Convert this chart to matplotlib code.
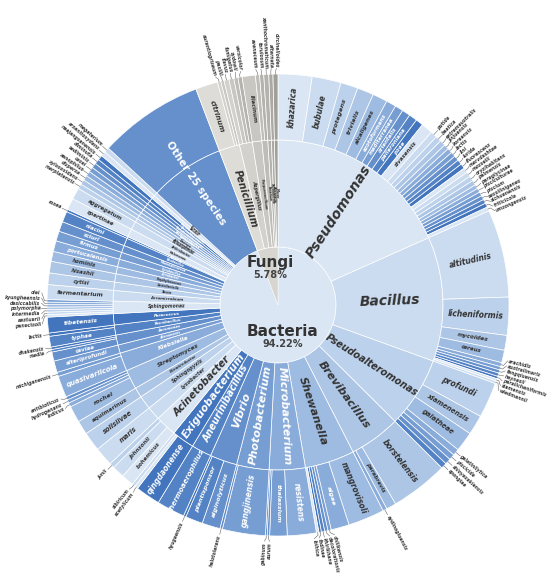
import matplotlib.pyplot as plt
import numpy as np

# ---------------------------------------------------------------
# data: isolates per kingdom -> genus -> species
# ---------------------------------------------------------------
kingdoms = ["Bacteria", "Fungi"]

genera = [
    "Pseudomonas", "Bacillus", "Pseudoalteromonas", "Brevibacillus", "Shewanella",
    "Microbacterium", "Photobacterium", "Vibrio", "Aneurinibacillus", "Exiguobacterium",
    "Acinetobacter", "Lysobacter", "Sphingopyxis", "Nitratireductor", "Streptomyces",
    "Klebsiella", "Alteromonas", "Aeromonas", "Paenibacillus", "Paracoccus",
    "Sphingomonas", "Aeromicrobium", "Bosea", "Castellaniella", "Staphylococcus",
    "Citrobacter", "Cytobacillus", "Mammaliicoccus", "Neobacillus", "Kocuria",
    "Halomonas", "Arthrobacter", "Herbaspirillum", "Achromobacter", "Pantoea",
    "Variovorax", "Lacticaseibacillus", "Pseudoxanthomonas", "Brevundimonas",
    "Stenotrophomonas", "Ensifer", "Priestia", "Other 25 species",
    "Penicillium", "Aspergillus", "Purpureocillium", "Fusarium", "Trichoderma",
    "Alternaria", "Mucor",
]
genus_kingdom = ["Bacteria"] * 43 + ["Fungi"] * 7

species = [
    ["khazarica", "bubulae", "protegens", "trivialis", "alcaligenes", "azotoformans",
     "mediterranea", "orientalis", "palleroniana", "poae", "sivasensis", "putida",
     "baetica", "extremaustralis", "jinjuensis", "koreensis", "lactis", "lini", "lurida",
     "fluorescens", "marvdashtae", "mosselii", "oryzihabitans", "palmensis",
     "paraglycinae", "pisciculturae", "piscium", "sessilinigenes", "sichuanensis",
     "triticicola", "umsongensis"],
    ["altitudinis", "licheniformis", "mycoides", "cereus", "arachidis", "australimaris",
     "fengqiuensis", "haynesii", "paralicheniformis", "siamensis", "wiedmannii"],
    ["profundi", "xiamenensis", "galatheae", "gelatinilytica", "piscicida",
     "shioyasakiensis", "spongiae"],
    ["borstelensis", "parabrevis", "aydinogluensis"],
    ["mangrovisoli", "algae", "chilikensis", "decolorationis", "khirikhana", "fodinae",
     "loihica"],
    ["resistens", "thalassium", "aurum", "gabinum"],
    ["gangjinensis", "halotolerans"],
    ["alginolyticus", "plantisponsor", "hyugaensis"],
    ["thermoaerophilus"],
    ["qingdaonense", "acetylicum", "sibiricum"],
    ["bohemicus", "johnsonii", "junii"],
    ["maris"],
    ["solisilvae"],
    ["aquimarinus"],
    ["rochei", "indicus", "hydrogenans", "antibioticus"],
    ["quasivariicola", "michiganensis"],
    ["alteriprofundi"],
    ["caviae", "media", "dhakensis"],
    ["typhae", "lactis"],
    ["tibetensis"],
    ["panacisoli", "aestuarii", "intermedia", "polymorpha", "desiccabilis",
     "kyungheensis", "olei"],
    ["fermentarium"],
    ["cytisi"],
    ["hisashii"],
    ["hominis"],
    ["portucalensis"],
    ["firmus"],
    ["sciuri"],
    ["niacini"],
    ["rosea"],
    ["spartinae"],
    ["aggregatum"],
    ["marplatensis"],
    ["xylosoxidans"],
    ["dispersa"],
    ["xenophilus"],
    ["casei"],
    ["sediminis"],
    ["diminuta"],
    ["naejangsanensis"],
    ["arsenitoxydans"],
    ["megaterium"],
    [""],
    ["citrinum", "aurantiogriseum", "paxilli"],
    ["flavus", "fumigatus", "sydowii", "versicolor"],
    ["lilacinum"],
    ["avenaceum", "torulosum"],
    ["xanthochromaticum"],
    ["alternata"],
    ["circinelloides"],
]

counts = [
    [41, 35, 21, 20, 18, 12, 10, 10, 10, 9, 14, 8, 7, 7, 6, 6, 6, 6, 6, 6, 6, 6, 6, 6,
     5, 5, 5, 5, 5, 5, 5],
    [106, 46, 18, 15, 5, 4, 4, 4, 3, 3, 3],
    [43, 24, 24, 8, 7, 7, 7],
    [70, 12, 5],
    [44, 22, 4, 4, 4, 3, 3],
    [35, 21, 3, 2],
    [52, 3],
    [22, 21, 3],
    [34],
    [30, 4, 4],
    [15, 15, 6],
    [23],
    [23],
    [17],
    [20, 5, 4, 4],
    [26, 5],
    [14],
    [11, 3, 3],
    [13, 4],
    [19],
    [3, 3, 3, 3, 3, 3, 3],
    [18],
    [14],
    [14],
    [12],
    [13],
    [12],
    [12],
    [13],
    [3],
    [14],
    [14],
    [6], [6], [6], [6], [6], [6], [6], [6], [6], [6],
    [127],
    [27, 4, 4],
    [6, 6, 5, 5],
    [16],
    [5, 5],
    [6],
    [5],
    [6],
]

# ---------------------------------------------------------------
blues = ["#dae6f4", "#cbdcf0", "#bcd1eb", "#adc6e6", "#9ebbe1",
         "#8aacda", "#779ed3", "#6590cc", "#5383c5", "#4275bd"]
grays = ["#dddcd6", "#d2d1cb", "#c8c7c1", "#bebdb7", "#b4b3ad",
         "#aaa9a3", "#a09f9a", "#969590", "#8c8b87", "#82817d"]

R_IN, R_MID, R_OUT = 58, 165, 231
TXT = "#333333"

genus_n = [sum(c) for c in counts]
kingdom_n = [sum(n for n, k in zip(genus_n, genus_kingdom) if k == kg) for kg in kingdoms]
total = sum(kingdom_n)

# colour shades cycle through the palette genus by genus
genus_shade = []
step = {k: 0 for k in kingdoms}
for g, k in zip(genera, genus_kingdom):
    genus_shade.append(7 if g.startswith("Other") else step[k] % 10)
    step[k] += 1


def col(kingdom, shade):
    return (blues if kingdom == "Bacteria" else grays)[shade % 10]


genus_colors = [col(k, s) for k, s in zip(genus_kingdom, genus_shade)]
sp_names, sp_counts, sp_colors, sp_shade, sp_king = [], [], [], [], []
for k, s, names, cs in zip(genus_kingdom, genus_shade, species, counts):
    for j, (nm, c) in enumerate(zip(names, cs)):
        sp_names.append(nm)
        sp_counts.append(c)
        sp_shade.append((s + j) % 10)
        sp_king.append(k)
        sp_colors.append(col(k, s + j))


def polar(r, theta):
    t = np.deg2rad(theta)
    return r * np.sin(t), r * np.cos(t)


def radial_rot(theta):
    rot = 90 - theta
    if theta > 180:
        rot += 180
    return rot


def spans(values):
    edges = np.concatenate([[0], np.cumsum(values)]) * 360.0 / total
    return edges[:-1], edges[1:]


fig = plt.figure(figsize=(5.5, 5.82), dpi=100)
ax = fig.add_axes([0, 0, 1, 1])
wp = dict(edgecolor="white", linewidth=0.5)

ax.pie(kingdom_n, radius=R_IN, colors=["#dae6f4", "#d6d5cf"], startangle=90,
       counterclock=False, wedgeprops=dict(edgecolor="white", linewidth=0.3))
ax.pie(genus_n, radius=R_MID, colors=genus_colors, startangle=90, counterclock=False,
       wedgeprops=dict(width=R_MID - R_IN, **wp))
ax.pie(sp_counts, radius=R_OUT, colors=sp_colors, startangle=90, counterclock=False,
       wedgeprops=dict(width=R_OUT - R_MID, **wp))

# centre labels
pos = {"Bacteria": (5, -26), "Fungi": (-8, 43)}
for kg, n in zip(kingdoms, kingdom_n):
    x, y = pos[kg]
    ax.text(x, y, kg, ha="center", va="center", fontsize=11, fontweight="bold", color=TXT)
    ax.text(x, y - 13, f"{100 * n / total:.2f}%", ha="center", va="center",
            fontsize=7, fontweight="bold", color="#444444")

# genus labels
a0s, a1s = spans(genus_n)
r_g = (R_IN + R_MID) / 2
for g, k, s, n, a0, a1 in zip(genera, genus_kingdom, genus_shade, genus_n, a0s, a1s):
    mid, span = (a0 + a1) / 2, a1 - a0
    color = "white" if (k == "Bacteria" and s >= 5) else TXT
    style = "italic"
    r = r_g
    if g.startswith("Other"):
        fs, style, r = 7.5, "normal", 147
    elif n >= 34:
        fs = min(10, 118 / len(g), 0.9 * span + 0.5, 8 if span < 40 else 10)
    else:
        fs = float(np.clip(0.75 * span, 2.2, 4.2))
    x, y = polar(r, mid)
    ax.text(x, y, g, rotation=radial_rot(mid), rotation_mode="anchor", ha="center",
            va="center", fontsize=fs, fontweight="bold", fontstyle=style, color=color)

# species labels: inside when wide enough, else on a leader line
a0s, a1s = spans(sp_counts)
r_s = (R_MID + R_OUT) / 2
leaders = []
for nm, k, s, c, a0, a1 in zip(sp_names, sp_king, sp_shade, sp_counts, a0s, a1s):
    if not nm:
        continue
    mid, span = (a0 + a1) / 2, a1 - a0
    if c >= 9:
        fs = float(np.clip(2.6 + 0.45 * span, 4.0, 5.5))
        fs = min(fs, 80 / len(nm))
        color = "white" if (k == "Bacteria" and s >= 5) else TXT
        x, y = polar(r_s, mid)
        ax.text(x, y, nm, rotation=radial_rot(mid), rotation_mode="anchor",
                ha="center", va="center", fontsize=fs, fontweight="bold",
                fontstyle="italic", color=color)
    else:
        leaders.append([mid, nm])

# spread crowded leader labels apart
sep = 1.25
lab = [m for m, _ in leaders]
for _ in range(400):
    moved = False
    for i in range(1, len(lab)):
        gap = lab[i] - lab[i - 1]
        if gap < sep:
            d = (sep - gap) / 2 + 1e-6
            lab[i - 1] -= d
            lab[i] += d
            moved = True
    if not moved:
        break

for (mid, nm), tl in zip(leaders, lab):
    p0 = polar(R_OUT, mid)
    p1 = polar(R_OUT + 2.5, mid)
    p2 = polar(R_OUT + 5.5, tl)
    ax.plot([p0[0], p1[0], p2[0]], [p0[1], p1[1], p2[1]], color="#666666", lw=0.4)
    x, y = polar(R_OUT + 6.5, tl)
    ax.text(x, y, nm, rotation=radial_rot(tl), rotation_mode="anchor",
            ha="left" if tl < 180 else "right", va="center", fontsize=3.3,
            fontweight="bold", fontstyle="italic", color="#3c3c3c")

ax.set_xlim(-278, 272)
ax.set_ylim(-277, 305)
ax.set_aspect("equal")
ax.axis("off")

fig.savefig("out.png", dpi=100, facecolor="white")
